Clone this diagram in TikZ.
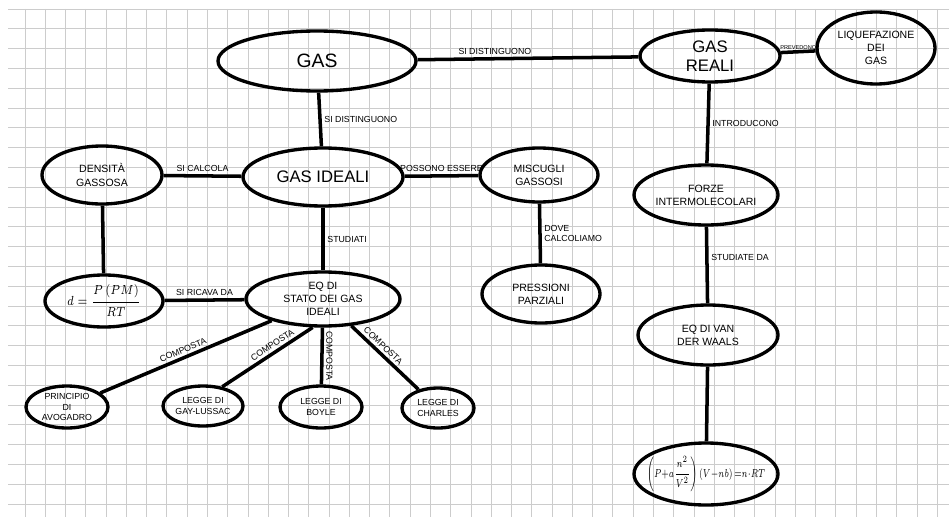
\documentclass[tikz,border=0pt]{standalone}
\usepackage{amsmath}
\usepackage{graphicx}
\usepackage{fontspec}
\setmainfont{Liberation Sans}
\usetikzlibrary{shapes.geometric}
\begin{document}
\begin{tikzpicture}[x=0.02cm,y=-0.02cm,
  bub/.style 2 args={ellipse,draw,line width=1.9pt,minimum width=#1*0.02cm,minimum height=#2*0.02cm,
     inner sep=0pt,align=center,font=\fontsize{6}{7.5}\selectfont},
  leaf/.style={font=\fontsize{5}{6}\selectfont},
  big/.style={font=\fontsize{9.5}{11}\selectfont},
  con/.style={line width=2pt},
  lab/.style={font=\fontsize{5}{6}\selectfont,inner sep=1.5pt},
  gridline/.style={gray!40,line width=0.45pt},
]
\useasboundingbox (0,0) rectangle (949,517);
\fill[white] (0,0) rectangle (949,517);
% grid paper
\foreach \k in {0,...,45} {\draw[gridline] ({25+20.27*\k},9) -- ({25+20.27*\k},517);}
\foreach \k in {0,...,25} {\draw[gridline] (8,{9+19.8*\k}) -- (949,{9+19.8*\k});}

% nodes
\node[bub={198}{60},font=\fontsize{11}{13}\selectfont] (gas) at (317,61) {GAS};
\node[bub={140}{52},big] (reali) at (710,56) {GAS\\REALI};
\node[bub={118}{72}] (liq) at (876,48) {LIQUEFAZIONE\\DEI\\GAS};
\node[bub={144}{60}] (forze) at (706,195) {FORZE\\INTERMOLECOLARI};
\node[bub={140}{60}] (vdw) at (708,335) {EQ DI VAN\\DER WAALS};
\node[bub={144}{62}] (vdweq) at (706,474) {\makebox[0pt]{\scalebox{0.75}[1.1]{$\left(P{+}a\dfrac{n^2}{V^2}\right)\left(V{-}nb\right){=}n{\cdot}RT$}}};

\node[bub={120}{58}] (dens) at (102,175) {DENSITÀ\\GASSOSA};
\node[bub={160}{58},big] (ideali) at (323,177) {GAS IDEALI};
\node[bub={118}{54}] (misc) at (539,175) {MISCUGLI\\GASSOSI};
\node[bub={118}{58}] (press) at (541,294) {PRESSIONI\\PARZIALI};
\node[bub={154}{54}] (stato) at (323,299) {EQ DI\\STATO DEI GAS\\IDEALI};
\node[bub={118}{52}] (dform) at (104,301) {\makebox[0pt]{\scalebox{1}[1.25]{$d=\dfrac{P\,(PM)}{RT}$}}};

\node[bub={82}{42},leaf] (avog) at (67,407) {PRINCIPIO\\DI\\AVOGADRO};
\node[bub={80}{40},leaf] (gay) at (203,406) {LEGGE DI\\GAY-LUSSAC};
\node[bub={82}{42},leaf] (boyle) at (321,407) {LEGGE DI\\BOYLE};
\node[bub={72}{40},leaf] (charles) at (438,408) {LEGGE DI\\CHARLES};

% connectors
\draw[con] (gas) -- node[lab,above,pos=0.35] (l1) {SI DISTINGUONO} (reali);
\draw[con] (reali) -- node[lab,above,inner sep=0.5pt,font=\fontsize{3.2}{4}\selectfont] (l2) {PREVEDONO} (liq);
\draw[con] (gas) -- node[lab,right] (l3) {SI DISTINGUONO} (ideali);
\draw[con] (reali) -- node[lab,right] (l4) {INTRODUCONO} (forze);
\draw[con] (forze) -- node[lab,right,pos=0.4] (l5) {STUDIATE DA} (vdw);
\draw[con] (vdw) -- (vdweq);
\draw[con] (dens) -- node[lab,above] (l6) {SI CALCOLA} (ideali);
\draw[con] (ideali) -- node[lab,above] (l7) {POSSONO ESSERE} (misc);
\draw[con] (misc) -- node[lab,right,align=left] (l8) {DOVE\\CALCOLIAMO} (press);
\draw[con] (ideali) -- node[lab,right] (l9) {STUDIATI} (stato);
\draw[con] (dens) -- (dform);
\draw[con] (dform) -- node[lab,above] (l10) {SI RICAVA DA} (stato);
\draw[con] (stato) -- node[lab,above,sloped] (l11) {COMPOSTA} (avog);
\draw[con] (stato.250) -- node[lab,above,sloped,pos=0.4] (l12) {COMPOSTA} (gay.45);
\draw[con] (stato) -- node[lab,rotate=-90,anchor=south] (l13) {COMPOSTA} (boyle);
\draw[con] (stato) -- node[lab,above,sloped,pos=0.4] (l14) {COMPOSTA} (charles);
\end{tikzpicture}
\end{document}
